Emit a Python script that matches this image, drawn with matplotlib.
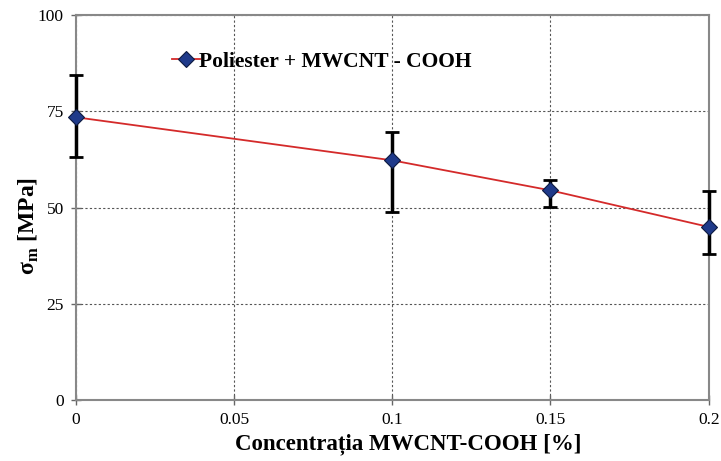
import numpy as np
import matplotlib
matplotlib.use("Agg")
import matplotlib.pyplot as plt

# Data
conc = [0, 0.1, 0.15, 0.2]
sigma = [73.5, 62.3, 54.5, 45.0]
err_low = [10.4, 13.4, 4.3, 7.1]
err_high = [10.9, 7.3, 2.6, 9.4]

xticks = [0, 0.05, 0.1, 0.15, 0.2]
yticks = [0, 25, 50, 75, 100]

plt.rcParams['font.family'] = ['Liberation Serif', 'DejaVu Serif']
plt.rcParams['mathtext.fontset'] = 'custom'
plt.rcParams['mathtext.bf'] = 'Liberation Serif:bold'

fig = plt.figure(figsize=(7.21, 4.61), dpi=100)
ax = fig.add_axes([0.105, 0.132, 0.878, 0.835])

eb = ax.errorbar(conc, sigma, yerr=[err_low, err_high], fmt='none',
                 ecolor='black', elinewidth=2.5, capsize=5, capthick=2, zorder=3)
for art in eb.lines[1] + eb.lines[2]:
    art.set_clip_on(False)
ax.plot(conc, sigma, color='#d42a2a', lw=1.3, marker='D', markersize=8,
        markerfacecolor='#1f3a8a', markeredgecolor='#0d1a40', markeredgewidth=0.8,
        zorder=4, clip_on=False, label='Poliester + MWCNT - COOH')

ax.set_xlim(0, 0.2)
ax.set_ylim(0, 100)
ax.set_xticks(xticks)
ax.set_xticklabels(['0', '0.05', '0.1', '0.15', '0.2'])
ax.set_yticks(yticks)

ax.grid(True, color='#555555', linestyle=(0, (2, 2)), linewidth=0.8)
ax.set_axisbelow(True)
for s in ax.spines.values():
    s.set_color('#888888')
    s.set_linewidth(1.5)
ax.tick_params(direction='inout', length=7, width=1, color='#666666',
               labelsize=12.5, pad=5)

ax.set_xlabel('Concentrația MWCNT-COOH [%]', fontsize=16.5, fontweight='bold')
ax.xaxis.set_label_coords(0.525, -0.085)
ax.set_ylabel(r'σ$_{\mathbf{m}}$ [MPa]', fontsize=17, fontweight='bold')
ax.yaxis.set_label_coords(-0.055, 0.452)

leg = ax.legend(loc='upper left', bbox_to_anchor=(0.122, 0.955), frameon=False,
                prop={'weight': 'bold', 'size': 15.5}, handlelength=1.3,
                handletextpad=-0.05)

fig.savefig('out.png', dpi=100)
